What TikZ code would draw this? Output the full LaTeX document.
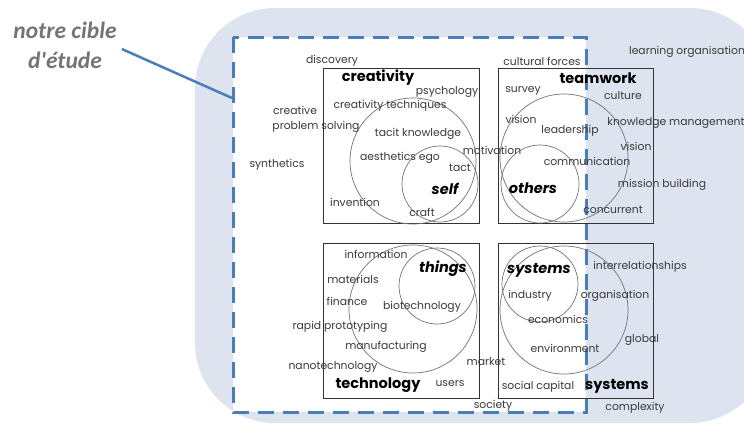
\documentclass[tikz,border=0pt]{standalone}
\usepackage{fontspec}
\setmainfont{Poppins}
\newfontfamily\calloutfont{Carlito}
\definecolor{bgblue}{HTML}{DDE4F0}
\definecolor{dashblue}{HTML}{4A7EBB}
\definecolor{txtgray}{HTML}{3A3A3A}
\definecolor{notegray}{HTML}{747474}
\tikzset{
  word/.style={text=txtgray, inner sep=1pt, font=\fontsize{10.8}{12}\selectfont},
  headword/.style={text=black, inner sep=1pt, font=\fontsize{14.5}{16}\selectfont\bfseries},
  coreword/.style={text=black, inner sep=1pt, font=\fontsize{14.5}{16}\selectfont\bfseries\itshape},
  quadbox/.style={draw=black!80, line width=0.9pt},
  ring/.style={draw=black!55, line width=0.7pt},
}

\begin{document}
\begin{tikzpicture}[x=1pt, y=-1pt]
    \useasboundingbox (0,0) rectangle (744,426);
    %background
    \fill[bgblue, rounded corners=80pt] (195,8) rectangle (770,423);
    %target of study
    \draw[dashblue, line width=3pt, dash pattern=on 16pt off 9pt, fill=white]
         (233,37) rectangle (586,412);
    \node[align=center, text=notegray, inner sep=0pt, %
          font=\calloutfont\fontsize{23.5}{30}\selectfont\bfseries\itshape] %
         (note) at (65,45) {notre cible\\d'étude};
    \coordinate (aim) at (232,98);
    \draw[dashblue, line width=2.5pt] ([xshift=5pt, yshift=-4pt]note.east) -- (aim);

    %boxes
    \draw[quadbox] (323,68) rectangle (479,223);
    \draw[quadbox] (498,68) rectangle (653,223);
    \draw[quadbox] (323,243) rectangle (479,398);
    \draw[quadbox] (498,243) rectangle (653,398);
    %circles
    \draw[ring] (413,161) circle[radius=63pt];
    \draw[ring] (440,184) circle[radius=38pt];
    \draw[ring] (564,158) circle[radius=64pt];
    \draw[ring] (540,184) circle[radius=39pt];
    \draw[ring] (413,309) circle[radius=64pt];
    \draw[ring] (437,286) circle[radius=38pt];
    \draw[ring] (564,310) circle[radius=64pt];
    \draw[ring] (540,284) circle[radius=38pt];

    %creativity
    \node[word] (discovery) at (332,61) {discovery};
    \node[headword] (creativity) at (378,78) {creativity};
    \node[word] (psychology) at (447,92) {psychology};
    \node[word] (techniques) at (390,106) {creativity techniques};
    \node[word] (creative) at (295,110) {creative};
    \node[word] (solving) at (316,127) {problem solving};
    \node[word] (tacit) at (418,134) {tacit knowledge};
    \node[word] (motivation) at (492,150) {motivation};
    \node[word] (synthetics) at (277,165) {synthetics};
    \node[word] (aesthetics) at (400,158) {aesthetics ego};
    \node[word] (tact) at (460,168) {tact};
    \node[coreword] (self) at (445,189) {self};
    \node[word] (invention) at (355,202) {invention};
    \node[word] (craft) at (422,212) {craft};

    %teamwork
    \node[word] (cultural) at (542,61) {cultural forces};
    \node[word] (learning) at (687,52) {learning organisation};
    \node[headword] (teamwork) at (598,78) {teamwork};
    \node[word] (survey) at (523,91) {survey};
    \node[word] (culture) at (623,96) {culture};
    \node[word] (visionA) at (521,119) {vision};
    \node[word] (knowledge) at (676,123) {knowledge management};
    \node[word] (leadership) at (570,131) {leadership};
    \node[word] (visionB) at (636,146) {vision};
    \node[word] (communication) at (587,161) {communication};
    \node[coreword] (others) at (533,188) {others};
    \node[word] (mission) at (662,185) {mission building};
    \node[word] (concurrent) at (613,210) {concurrent};

    %technology
    \node[word] (information) at (376,254) {information};
    \node[coreword] (things) at (443,269) {things};
    \node[word] (materials) at (353,279) {materials};
    \node[word] (finance) at (347,301) {finance};
    \node[word] (biotech) at (422,307) {biotechnology};
    \node[word] (prototyping) at (340,327) {rapid prototyping};
    \node[word] (manufacturing) at (386,347) {manufacturing};
    \node[word] (nanotech) at (333,367) {nanotechnology};
    \node[word] (market) at (486,362) {market};
    \node[headword] (technology) at (378,385) {technology};
    \node[word] (users) at (450,384) {users};
    \node[word] (society) at (493,406) {society};

    %systems
    \node[coreword] (systemsA) at (539,270) {systems};
    \node[word] (interrel) at (640,267) {interrelationships};
    \node[word] (industry) at (530,296) {industry};
    \node[word] (organisation) at (615,296) {organisation};
    \node[word] (economics) at (558,319) {economics};
    \node[word] (global) at (642,340) {global};
    \node[word] (environment) at (565,348) {environment};
    \node[word] (social) at (538,387) {social capital};
    \node[headword] (systemsB) at (617,386) {systems};
    \node[word] (complexity) at (635,408) {complexity};
\end{tikzpicture}
\end{document}
